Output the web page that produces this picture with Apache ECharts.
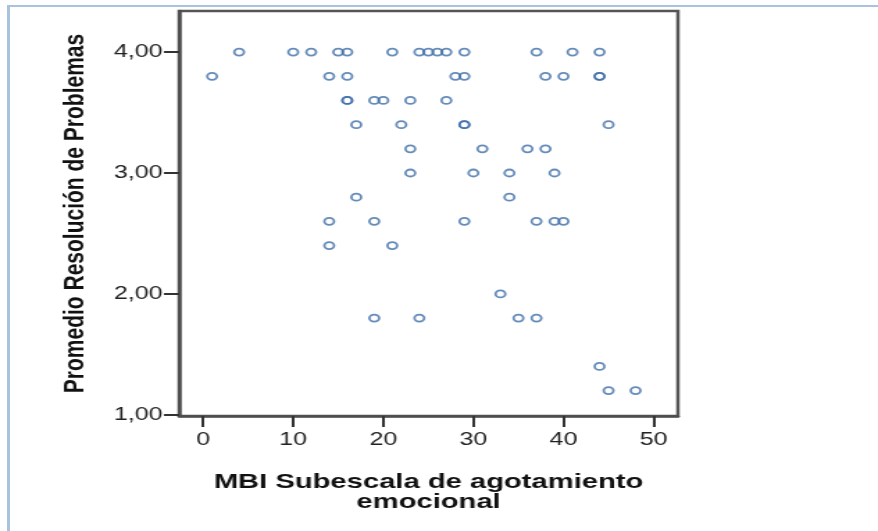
<!DOCTYPE html>
<html>
<head>
<meta charset="utf-8">
<script src="https://cdn.jsdelivr.net/npm/echarts@6/dist/echarts.min.js"></script>
<style>
    body { margin: 0; background: #fff; overflow: hidden; }
    #frame {
        position: absolute; left: 7px; top: 5px; width: 871px; height: 526px;
        border-top: 2px solid #a9c2de; border-left: 3px solid #a9c2de;
    }
    /* the original picture is stretched sideways, so draw narrow and scale */
    #main {
        position: absolute; left: 0; top: 0; width: 632px; height: 531px;
        transform: scaleX(1.3892); transform-origin: 0 0;
    }
</style>
</head>
<body>
<div id="frame"></div>
<div id="main"></div>
<script type="text/javascript">
    // MBI agotamiento emocional (x) vs Promedio Resolución de Problemas (y)
    var agotamiento = [
        4, 10, 12, 15, 16, 21, 24, 25, 26, 27, 29, 37, 41, 44,
        1, 14, 16, 28, 29, 38, 40, 44, 44,
        16, 16, 19, 20, 23, 27,
        17, 22, 29, 29, 45,
        23, 31, 36, 38,
        23, 30, 34, 39,
        17, 34,
        14, 19, 29, 37, 39, 40,
        14, 21,
        33,
        19, 24, 35, 37,
        44,
        45, 48
    ];
    var resolucion = [
        4.0, 4.0, 4.0, 4.0, 4.0, 4.0, 4.0, 4.0, 4.0, 4.0, 4.0, 4.0, 4.0, 4.0,
        3.8, 3.8, 3.8, 3.8, 3.8, 3.8, 3.8, 3.8, 3.8,
        3.6, 3.6, 3.6, 3.6, 3.6, 3.6,
        3.4, 3.4, 3.4, 3.4, 3.4,
        3.2, 3.2, 3.2, 3.2,
        3.0, 3.0, 3.0, 3.0,
        2.8, 2.8,
        2.6, 2.6, 2.6, 2.6, 2.6, 2.6,
        2.4, 2.4,
        2.0,
        1.8, 1.8, 1.8, 1.8,
        1.4,
        1.2, 1.2
    ];
    var xTicks = [0, 10, 20, 30, 40, 50];
    var yTicks = [1, 2, 3, 4];

    var points = [];
    for (var i = 0; i < agotamiento.length; i++) {
        points.push([agotamiento[i], resolucion[i]]);
    }

    var myChart = echarts.init(document.getElementById('main'));
    myChart.setOption({
        animation: false,
        grid: {
            left: 129, right: 144, top: 11, bottom: 115,
            show: true,
            borderColor: '#555',
            borderWidth: 2.5
        },
        xAxis: {
            type: 'value',
            min: -2.65,
            max: 52.7,
            name: 'MBI Subescala de agotamiento\nemocional',
            nameLocation: 'middle',
            nameGap: 56,
            nameTextStyle: {
                fontFamily: 'Liberation Sans, Arial, sans-serif',
                fontWeight: 'bold',
                fontSize: 21,
                lineHeight: 20,
                color: '#111'
            },
            axisLine: { show: true, onZero: false, lineStyle: { color: '#4d4d4d', width: 2.5 } },
            axisTick: { show: true, customValues: xTicks, length: 11, lineStyle: { color: '#333', width: 2 } },
            axisLabel: {
                customValues: xTicks,
                margin: 15,
                fontFamily: 'Liberation Sans, Arial, sans-serif',
                fontSize: 18,
                color: '#222'
            },
            splitLine: { show: false }
        },
        yAxis: {
            type: 'value',
            min: 0.99,
            max: 4.34,
            name: 'Promedio Resolución de Problemas',
            nameLocation: 'middle',
            nameRotate: 90,
            nameGap: 64,
            nameTextStyle: {
                fontFamily: 'Liberation Sans, Arial, sans-serif',
                fontWeight: 'bold',
                fontSize: 21,
                color: '#111'
            },
            axisLine: { show: true, onZero: false, lineStyle: { color: '#4d4d4d', width: 2.5 } },
            axisTick: { show: true, customValues: yTicks, length: 11, lineStyle: { color: '#333', width: 2 } },
            axisLabel: {
                customValues: yTicks,
                margin: 12,
                fontFamily: 'Liberation Sans, Arial, sans-serif',
                fontSize: 18,
                color: '#222',
                formatter: function (v) { return v.toFixed(2).replace('.', ','); }
            },
            splitLine: { show: false }
        },
        series: [
            {
                type: 'scatter',
                symbol: 'circle',
                symbolSize: 7,
                itemStyle: {
                    color: 'rgba(255,255,255,0)',
                    borderColor: '#3f6ea8',
                    borderWidth: 1.8
                },
                data: points
            }
        ]
    });
</script>
</body>
</html>
